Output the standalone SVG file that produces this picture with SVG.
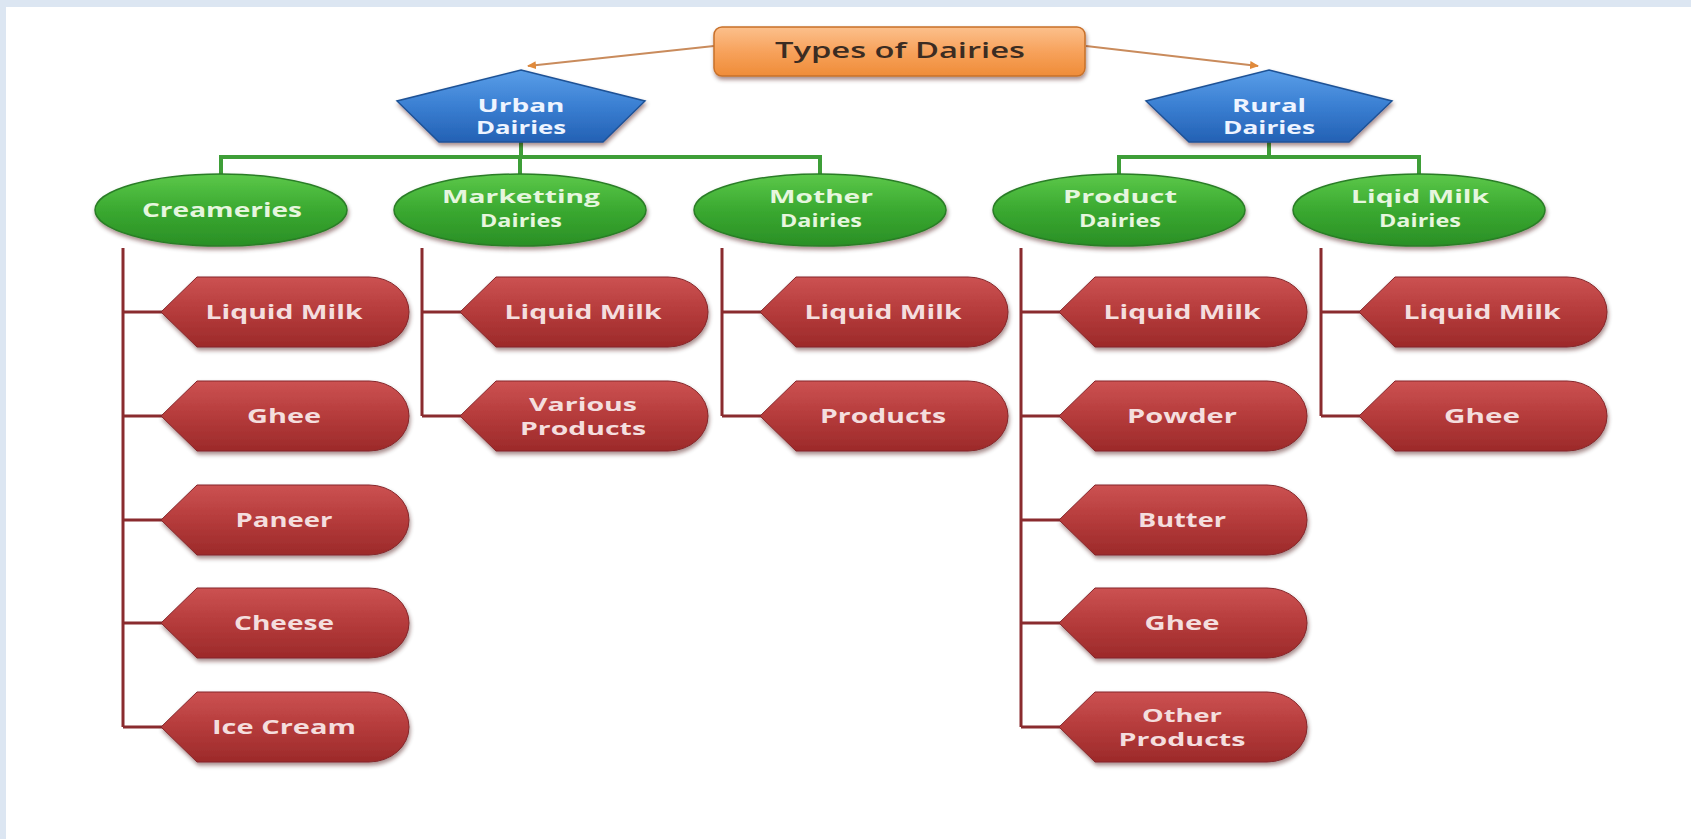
<svg xmlns="http://www.w3.org/2000/svg" xmlns:xlink="http://www.w3.org/1999/xlink" width="1691" height="839" viewBox="0 0 1691 839">
<style>
.t{font-family:"Open Sans","Liberation Sans",sans-serif;font-weight:700;text-anchor:middle;}
.rt{fill:#f4dede;font-size:20px;}
.gt{fill:#e6f6de;font-size:20px;}
.bt{fill:#eef4ff;font-size:18px;}
.s2{font-size:17px;}
.title{font-family:"Open Sans","Liberation Sans",sans-serif;font-weight:600;font-size:22px;fill:#3b2c22;text-anchor:middle;}
.mar{stroke:#8a2b2e;stroke-width:3;fill:none;}
.grn{stroke:#3e9e38;stroke-width:4;fill:none;}
.arr{stroke:#c98b5c;stroke-width:2;fill:none;}
</style>
<defs>
<linearGradient id="gRed" x1="0" y1="0" x2="0" y2="1">
<stop offset="0" stop-color="#cc5252"/><stop offset="0.5" stop-color="#b53b3b"/><stop offset="1" stop-color="#9c2a2a"/>
</linearGradient>
<linearGradient id="gGreen" x1="0" y1="0" x2="0" y2="1">
<stop offset="0" stop-color="#5cc84a"/><stop offset="0.5" stop-color="#3aa930"/><stop offset="1" stop-color="#2a8f26"/>
</linearGradient>
<linearGradient id="gBlue" x1="0" y1="0" x2="0" y2="1">
<stop offset="0" stop-color="#5a9ee8"/><stop offset="0.5" stop-color="#3a7fd2"/><stop offset="1" stop-color="#2461b4"/>
</linearGradient>
<linearGradient id="gOrange" x1="0" y1="0" x2="0" y2="1">
<stop offset="0" stop-color="#fcc08c"/><stop offset="0.5" stop-color="#f7a25c"/><stop offset="1" stop-color="#ef8c38"/>
</linearGradient>
<filter id="sh" x="-10%" y="-20%" width="125%" height="150%">
<feDropShadow dx="1" dy="3" stdDeviation="2" flood-color="#3a1010" flood-opacity="0.45"/>
</filter>
<path id="tag" d="M0,0 L36,-35 L208,-35 A40,35 0 0 1 208,35 L36,35 Z" fill="url(#gRed)" stroke="#85262a" stroke-width="1"/>
<marker id="ah" markerWidth="10" markerHeight="10" refX="8" refY="5" orient="auto" markerUnits="userSpaceOnUse">
<path d="M0,1 L9,5 L0,9 Z" fill="#e08a3c"/>
</marker>
</defs>
<rect x="0" y="0" width="1691" height="839" fill="#ffffff"/>
<rect x="0" y="0" width="1691" height="7" fill="#dce6f2"/>
<rect x="0" y="0" width="6" height="839" fill="#dce6f2"/>

<g id="connectors">
<line class="arr" x1="714" y1="46" x2="528" y2="66" marker-end="url(#ah)"/>
<line class="arr" x1="1086" y1="46" x2="1258" y2="66" marker-end="url(#ah)"/>
<path class="grn" d="M521,142 V157 M221,175 V157 H820 V175 M520,157 V175"/>
<path class="grn" d="M1269,142 V157 M1119,175 V157 H1419 V175"/>
<path class="mar" d="M123,248 V727 M123,312 H165 M123,416 H165 M123,520 H165 M123,623 H165 M123,727 H165"/>
<path class="mar" d="M422,248 V416 M422,312 H464 M422,416 H464"/>
<path class="mar" d="M722,248 V416 M722,312 H764 M722,416 H764"/>
<path class="mar" d="M1021,248 V727 M1021,312 H1063 M1021,416 H1063 M1021,520 H1063 M1021,623 H1063 M1021,727 H1063"/>
<path class="mar" d="M1321,248 V416 M1321,312 H1363 M1321,416 H1363"/>
</g>

<g id="types-of-dairies">
<rect x="714" y="27" width="371" height="49" rx="8" fill="url(#gOrange)" stroke="#c8702a" stroke-width="1.5" filter="url(#sh)"/>
<text class="title" x="900" y="58" textLength="250" lengthAdjust="spacingAndGlyphs">Types of Dairies</text>
</g>

<g id="urban-dairies">
<polygon points="521,70 645,101 603,142 439,142 397,101" fill="url(#gBlue)" stroke="#1f5296" stroke-width="1.5" filter="url(#sh)"/>
<text class="t bt" x="521" y="112" textLength="87" lengthAdjust="spacingAndGlyphs">Urban</text>
<text class="t bt" x="521" y="134" textLength="90" lengthAdjust="spacingAndGlyphs">Dairies</text>
</g>
<g id="rural-dairies">
<polygon points="1269,70 1392,101 1349,142 1189,142 1146,101" fill="url(#gBlue)" stroke="#1f5296" stroke-width="1.5" filter="url(#sh)"/>
<text class="t bt" x="1269" y="112" textLength="74" lengthAdjust="spacingAndGlyphs">Rural</text>
<text class="t bt" x="1269" y="134" textLength="92" lengthAdjust="spacingAndGlyphs">Dairies</text>
</g>

<g id="creameries">
<ellipse cx="221" cy="210" rx="126" ry="36" fill="url(#gGreen)" stroke="#2a7d28" stroke-width="1.5" filter="url(#sh)"/>
<text class="t gt" x="222" y="217" textLength="160" lengthAdjust="spacingAndGlyphs">Creameries</text>
</g>
<g id="marketting-dairies">
<ellipse cx="520" cy="210" rx="126" ry="36" fill="url(#gGreen)" stroke="#2a7d28" stroke-width="1.5" filter="url(#sh)"/>
<text class="t gt s2" x="521" y="203" textLength="158" lengthAdjust="spacingAndGlyphs">Marketting</text>
<text class="t gt s2" x="521" y="227" textLength="82" lengthAdjust="spacingAndGlyphs">Dairies</text>
</g>
<g id="mother-dairies">
<ellipse cx="820" cy="210" rx="126" ry="36" fill="url(#gGreen)" stroke="#2a7d28" stroke-width="1.5" filter="url(#sh)"/>
<text class="t gt s2" x="821" y="203" textLength="104" lengthAdjust="spacingAndGlyphs">Mother</text>
<text class="t gt s2" x="821" y="227" textLength="82" lengthAdjust="spacingAndGlyphs">Dairies</text>
</g>
<g id="product-dairies">
<ellipse cx="1119" cy="210" rx="126" ry="36" fill="url(#gGreen)" stroke="#2a7d28" stroke-width="1.5" filter="url(#sh)"/>
<text class="t gt s2" x="1120" y="203" textLength="114" lengthAdjust="spacingAndGlyphs">Product</text>
<text class="t gt s2" x="1120" y="227" textLength="82" lengthAdjust="spacingAndGlyphs">Dairies</text>
</g>
<g id="liqid-milk-dairies">
<ellipse cx="1419" cy="210" rx="126" ry="36" fill="url(#gGreen)" stroke="#2a7d28" stroke-width="1.5" filter="url(#sh)"/>
<text class="t gt s2" x="1420" y="203" textLength="138" lengthAdjust="spacingAndGlyphs">Liqid Milk</text>
<text class="t gt s2" x="1420" y="227" textLength="82" lengthAdjust="spacingAndGlyphs">Dairies</text>
</g>

<g id="c-liquid-milk"><use xlink:href="#tag" href="#tag" x="161" y="312" filter="url(#sh)"/><text class="t rt" x="284" y="319" textLength="157" lengthAdjust="spacingAndGlyphs">Liquid Milk</text></g>
<g id="c-ghee"><use xlink:href="#tag" href="#tag" x="161" y="416" filter="url(#sh)"/><text class="t rt" x="284" y="423" textLength="74" lengthAdjust="spacingAndGlyphs">Ghee</text></g>
<g id="c-paneer"><use xlink:href="#tag" href="#tag" x="161" y="520" filter="url(#sh)"/><text class="t rt" x="284" y="527" textLength="97" lengthAdjust="spacingAndGlyphs">Paneer</text></g>
<g id="c-cheese"><use xlink:href="#tag" href="#tag" x="161" y="623" filter="url(#sh)"/><text class="t rt" x="284" y="630" textLength="100" lengthAdjust="spacingAndGlyphs">Cheese</text></g>
<g id="c-ice-cream"><use xlink:href="#tag" href="#tag" x="161" y="727" filter="url(#sh)"/><text class="t rt" x="284" y="734" textLength="144" lengthAdjust="spacingAndGlyphs">Ice Cream</text></g>

<g id="m-liquid-milk"><use xlink:href="#tag" href="#tag" x="460" y="312" filter="url(#sh)"/><text class="t rt" x="583" y="319" textLength="157" lengthAdjust="spacingAndGlyphs">Liquid Milk</text></g>
<g id="m-various-products"><use xlink:href="#tag" href="#tag" x="460" y="416" filter="url(#sh)"/><text class="t rt s2" x="583" y="411" textLength="108" lengthAdjust="spacingAndGlyphs">Various</text><text class="t rt s2" x="583" y="435" textLength="126" lengthAdjust="spacingAndGlyphs">Products</text></g>

<g id="mo-liquid-milk"><use xlink:href="#tag" href="#tag" x="760" y="312" filter="url(#sh)"/><text class="t rt" x="883" y="319" textLength="157" lengthAdjust="spacingAndGlyphs">Liquid Milk</text></g>
<g id="mo-products"><use xlink:href="#tag" href="#tag" x="760" y="416" filter="url(#sh)"/><text class="t rt" x="883" y="423" textLength="126" lengthAdjust="spacingAndGlyphs">Products</text></g>

<g id="p-liquid-milk"><use xlink:href="#tag" href="#tag" x="1059" y="312" filter="url(#sh)"/><text class="t rt" x="1182" y="319" textLength="157" lengthAdjust="spacingAndGlyphs">Liquid Milk</text></g>
<g id="p-powder"><use xlink:href="#tag" href="#tag" x="1059" y="416" filter="url(#sh)"/><text class="t rt" x="1182" y="423" textLength="110" lengthAdjust="spacingAndGlyphs">Powder</text></g>
<g id="p-butter"><use xlink:href="#tag" href="#tag" x="1059" y="520" filter="url(#sh)"/><text class="t rt" x="1182" y="527" textLength="88" lengthAdjust="spacingAndGlyphs">Butter</text></g>
<g id="p-ghee"><use xlink:href="#tag" href="#tag" x="1059" y="623" filter="url(#sh)"/><text class="t rt" x="1182" y="630" textLength="75" lengthAdjust="spacingAndGlyphs">Ghee</text></g>
<g id="p-other-products"><use xlink:href="#tag" href="#tag" x="1059" y="727" filter="url(#sh)"/><text class="t rt s2" x="1182" y="722" textLength="80" lengthAdjust="spacingAndGlyphs">Other</text><text class="t rt s2" x="1182" y="746" textLength="127" lengthAdjust="spacingAndGlyphs">Products</text></g>

<g id="l-liquid-milk"><use xlink:href="#tag" href="#tag" x="1359" y="312" filter="url(#sh)"/><text class="t rt" x="1482" y="319" textLength="157" lengthAdjust="spacingAndGlyphs">Liquid Milk</text></g>
<g id="l-ghee"><use xlink:href="#tag" href="#tag" x="1359" y="416" filter="url(#sh)"/><text class="t rt" x="1482" y="423" textLength="76" lengthAdjust="spacingAndGlyphs">Ghee</text></g>
</svg>
